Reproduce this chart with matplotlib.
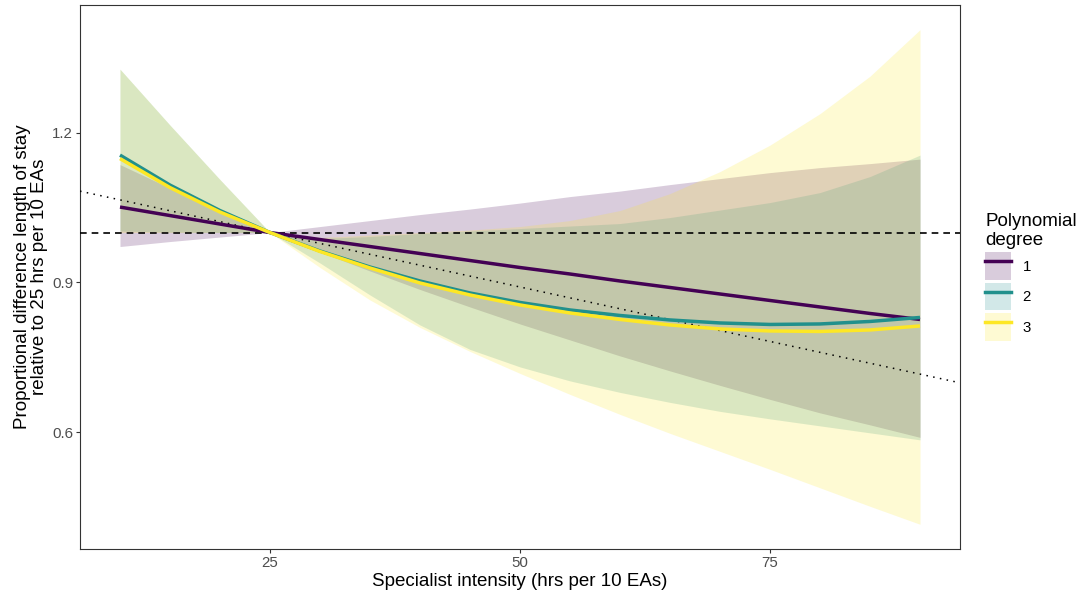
import matplotlib.pyplot as plt
from matplotlib.patches import Patch
from matplotlib.lines import Line2D

plt.rcParams['font.family'] = ['Liberation Sans', 'DejaVu Sans']

# specialist intensity (hrs per 10 EAs)
intensity = [10, 15, 20, 25, 30, 35, 40, 45, 50, 55, 60, 65, 70, 75, 80, 85, 90]

# degree 1
fit_1 = [1.051, 1.034, 1.017, 1.0, 0.986, 0.972, 0.958, 0.944, 0.930, 0.917,
         0.903, 0.890, 0.877, 0.864, 0.851, 0.838, 0.826]
upper_1 = [1.136, 1.089, 1.044, 1.0, 1.012, 1.024, 1.036, 1.047, 1.059, 1.072,
           1.083, 1.096, 1.108, 1.120, 1.130, 1.138, 1.147]
lower_1 = [0.972, 0.982, 0.991, 1.0, 0.961, 0.923, 0.886, 0.851, 0.817, 0.785,
           0.753, 0.723, 0.694, 0.666, 0.639, 0.615, 0.590]

# degree 2
fit_2 = [1.155, 1.095, 1.044, 1.0, 0.963, 0.931, 0.903, 0.879, 0.860, 0.845,
         0.834, 0.825, 0.819, 0.816, 0.817, 0.822, 0.830]
upper_2 = [1.327, 1.215, 1.106, 1.0, 0.988, 0.992, 0.998, 1.003, 1.008, 1.013,
           1.018, 1.030, 1.045, 1.060, 1.080, 1.112, 1.155]
lower_2 = [1.003, 1.001, 1.0, 1.0, 0.939, 0.875, 0.815, 0.766, 0.731, 0.703,
           0.680, 0.660, 0.642, 0.627, 0.613, 0.599, 0.585]

# degree 3
fit_3 = [1.148, 1.090, 1.041, 1.0, 0.962, 0.929, 0.899, 0.875, 0.855, 0.839,
         0.826, 0.815, 0.807, 0.803, 0.802, 0.805, 0.813]
upper_3 = [1.327, 1.215, 1.106, 1.0, 0.990, 0.995, 1.0, 1.005, 1.012, 1.024,
           1.044, 1.078, 1.122, 1.175, 1.238, 1.313, 1.406]
lower_3 = [1.0, 1.0, 1.0, 1.0, 0.930, 0.865, 0.810, 0.762, 0.718, 0.676,
           0.636, 0.598, 0.562, 0.526, 0.489, 0.452, 0.416]

degrees = ['1', '2', '3']
colors = ['#440154', '#21908C', '#FDE725']

# reference line through (25, 1)
ref_intercept = 1.109
ref_slope = -0.00436

fits = [fit_1, fit_2, fit_3]
uppers = [upper_1, upper_2, upper_3]
lowers = [lower_1, lower_2, lower_3]

fig = plt.figure(figsize=(10.88, 5.97), dpi=100)
ax = fig.add_axes([80 / 1088, 1 - 549 / 597, 880 / 1088, 544 / 597])

for up, lo, c in zip(uppers, lowers, colors):
    ax.fill_between(intensity, lo, up, color=c, alpha=0.2, linewidth=0)

ax.axhline(1, color='black', linestyle=(0, (4, 3)), linewidth=1.2, zorder=3)
ax.axline((0, ref_intercept), slope=ref_slope, color='black',
          linestyle=(0, (1, 3.5)), linewidth=1.1, zorder=3)

for f, c in zip(fits, colors):
    ax.plot(intensity, f, color=c, linewidth=2.5, zorder=4,
            solid_capstyle='butt')

# ggplot-style 5% expansion
xr = max(intensity) - min(intensity)
ax.set_xlim(min(intensity) - 0.05 * xr, max(intensity) + 0.05 * xr)
ymin = min(min(l) for l in lowers)
ymax = max(max(u) for u in uppers)
yr = ymax - ymin
ax.set_ylim(ymin - 0.05 * yr, ymax + 0.05 * yr)

ax.set_xticks([25, 50, 75])
ax.set_yticks([0.6, 0.9, 1.2])
ax.set_yticklabels(['0.6', '0.9', '1.2'])
ax.tick_params(labelsize=10.8, labelcolor='#4d4d4d', color='#333333',
               length=3, width=0.8, pad=2)
for s in ax.spines.values():
    s.set_color('#333333')
    s.set_linewidth(0.8)

ax.set_xlabel('Specialist intensity (hrs per 10 EAs)', fontsize=13.5, labelpad=2)
ax.set_ylabel('Proportional difference length of stay\nrelative to 25 hrs per 10 EAs',
              fontsize=13.5, labelpad=3, linespacing=1.0)

handles = [(Patch(facecolor=c, alpha=0.2, linewidth=0),
            Line2D([], [], color=c, linewidth=2.5)) for c in colors]
leg = ax.legend(handles, degrees, title='Polynomial\ndegree', loc='center left',
                bbox_to_anchor=(1.02, 0.5), frameon=False, fontsize=10.8,
                title_fontsize=13.5, handlelength=1.75, handleheight=2.45,
                labelspacing=0.2, handletextpad=0.75, borderpad=0,
                alignment='left')
leg.get_title().set_linespacing(1.15)

plt.savefig('out.png', dpi=100)
